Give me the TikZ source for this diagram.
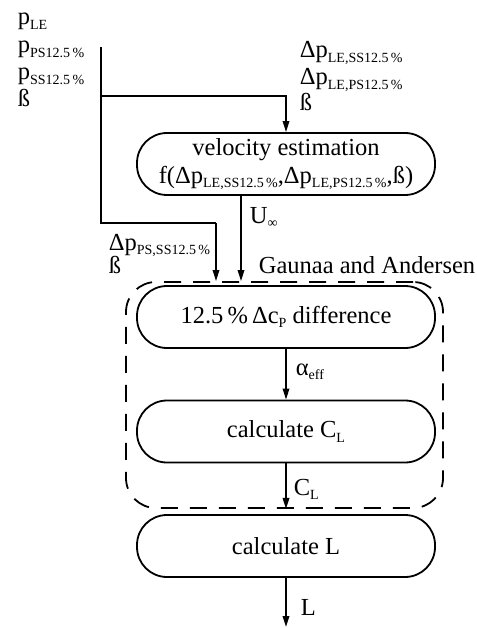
\documentclass[tikz,border=0pt]{standalone}
\usepackage{fontspec}
\setmainfont{Liberation Serif}
\usetikzlibrary{arrows.meta}
\newcommand{\lowsub}[1]{\raisebox{-4.5pt}{\fontsize{14}{14}\selectfont #1}}

\begin{document}
\begin{tikzpicture}[x=1pt, y=1pt, line width=1.8pt, font=\fontsize{24.5}{28}\selectfont,
        flowbox/.style={draw, rounded corners=30pt, minimum width=298pt, minimum height=62pt, align=center, inner sep=0pt},
        groupbox/.style={draw, dash pattern=on 17pt off 12pt, rounded corners=30pt, minimum width=317pt, minimum height=226pt},
        flow/.style={-{Triangle[length=11pt, width=6.5pt]}},
        lbl/.style={anchor=base west, inner sep=0pt}]
        \useasboundingbox (0, 0) rectangle (476, -628);

        % Pressure inputs
        \node[lbl] (pLE) at (17, -25) {p\lowsub{LE}};
        \node[lbl] (pPS) at (17, -53) {p\lowsub{PS12.5\,\%}};
        \node[lbl] (pSS) at (17, -80) {p\lowsub{SS12.5\,\%}};
        \node[lbl] (betaL) at (17, -107) {ß};

        \node[lbl] (dpLESS) at (299, -58) {Δp\lowsub{LE,SS12.5\,\%}};
        \node[lbl] (dpLEPS) at (299, -85) {Δp\lowsub{LE,PS12.5\,\%}};
        \node[lbl] (betaR) at (299, -111) {ß};

        % Process boxes
        \node[flowbox] (vel) at (286, -164) {velocity estimation\\f(Δp\lowsub{LE,SS12.5\,\%},Δp\lowsub{LE,PS12.5\,\%},ß)};
        \node[flowbox] (diff) at (286, -317) {12.5\,\%\,Δc\lowsub{P} difference};
        \node[flowbox] (calcCL) at (286, -431.5) {calculate C\lowsub{L}};
        \node[flowbox] (calcL) at (286, -546) {calculate L};

        % Gaunaa and Andersen group {{{
        \node[groupbox] (gaunaa) at (284.5, -395) {};
        \node[lbl] (gaunaaLbl) at (258, -273) {Gaunaa and Andersen};
        % }}}

        % Connectors
        \coordinate (top) at (101, -47);
        \coordinate (split) at (101, -96);
        \coordinate (bend) at (101, -223);
        \coordinate (drop) at (216, -223);
        \coordinate (uout) at ([xshift=-45pt]vel.south);
        \coordinate (lend) at (286, -627);

        \draw (top) -- (bend) -- (drop);
        \draw[flow] (split) -| (vel.north);
        \draw[flow] (drop) -- (drop |- gaunaa.north);
        \draw[flow] (uout) -- (uout |- gaunaa.north);
        \draw[flow] (diff) -- (calcCL);
        \draw[flow] (calcCL) -- (calcCL |- gaunaa.south);
        \draw[flow] (calcL) -- (lend);

        % Connector labels
        \node[lbl] (uinf) at (249, -223) {U\lowsub{∞}};
        \node[lbl] (dpPSSS) at (108, -250) {Δp\lowsub{PS,SS12.5\,\%}};
        \node[lbl] (betaG) at (108, -273) {ß};
        \node[lbl] (alpha) at (295, -375) {α\lowsub{eff}};
        \node[lbl] (cl) at (293, -495) {C\lowsub{L}};
        \node[lbl] (lout) at (300, -615) {L};
\end{tikzpicture}
\end{document}
